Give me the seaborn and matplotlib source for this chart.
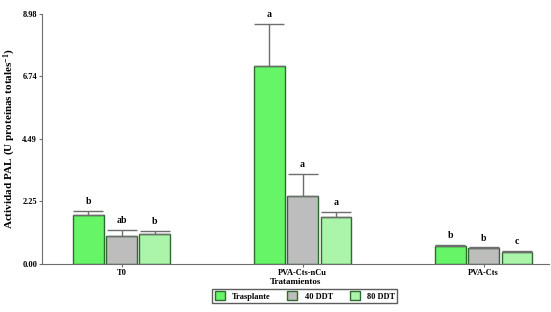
import seaborn as sns
import matplotlib.pyplot as plt
import pandas as pd
import numpy as np

tratamientos = ["T0", "PVA-Cts-nCu", "PVA-Cts"]
tiempos = ["Trasplante", "40 DDT", "80 DDT"]
trasplante = [1.76, 7.11, 0.65]
ddt40 = [1.00, 2.44, 0.57]
ddt80 = [1.08, 1.69, 0.43]
err_trasplante = [0.15, 1.51, 0.03]
err_40 = [0.22, 0.79, 0.03]
err_80 = [0.10, 0.18, 0.04]
letras_trasplante = ["b", "a", "b"]
letras_40 = ["ab", "a", "b"]
letras_80 = ["b", "a", "c"]
yticks = [0.00, 2.25, 4.49, 6.74, 8.98]

df = pd.DataFrame({
    "Tratamientos": tratamientos * 3,
    "Tiempo": [t for t in tiempos for _ in tratamientos],
    "PAL": trasplante + ddt40 + ddt80,
    "err": err_trasplante + err_40 + err_80,
    "letra": letras_trasplante + letras_40 + letras_80,
})

plt.rcParams['font.family'] = ['Liberation Serif', 'DejaVu Serif']
plt.rcParams['font.weight'] = 'bold'
plt.rcParams['mathtext.default'] = 'regular'

colors = ["#66f566", "#bdbdbd", "#aaf5aa"]
fig = plt.figure(figsize=(5.51, 3.12), dpi=100)
ax = fig.add_axes([0.076, 0.154, 0.92, 0.801])

sns.barplot(data=df, x="Tratamientos", y="PAL", hue="Tiempo", order=tratamientos,
            hue_order=tiempos, palette=colors, saturation=1, errorbar=None,
            width=0.55, gap=0.08, edgecolor="#2e6b2e", linewidth=1.0, ax=ax,
            legend=True)

# bars come in hue order, each over the categories
for patch, (_, row) in zip(ax.patches, df.iterrows()):
    xc = patch.get_x() + patch.get_width() / 2
    top = patch.get_height()
    ax.errorbar(xc, top, yerr=[[0], [row["err"]]], fmt="none", ecolor="#6e6e6e",
                elinewidth=1.0, capsize=10.8, capthick=1.0)
    ax.text(xc, top + row["err"] + 0.17, row["letra"], ha="center", va="bottom",
            fontsize=7, fontweight="bold")

ax.set_ylim(0, 8.98)
ax.set_xlim(-0.44, 2.36)
ax.set_yticks(yticks)
ax.set_yticklabels([f"{v:.2f}" for v in yticks])
ax.tick_params(axis="both", labelsize=6, length=2, color="#6e6e6e", pad=1.5)
for s in ["top", "right"]:
    ax.spines[s].set_visible(False)
for s in ["left", "bottom"]:
    ax.spines[s].set_color("#6e6e6e")
ax.set_xlabel("Tratamientos", fontsize=6.5, fontweight="bold", labelpad=1)
ax.set_ylabel("Actividad PAL (U proteínas totales$^{-1}$)", fontsize=8,
              fontweight="bold", labelpad=3)

ax.legend(loc="upper center", bbox_to_anchor=(0.519, -0.085), ncol=3, fontsize=6,
          frameon=True, fancybox=False, edgecolor="#333333", handlelength=1.2,
          handleheight=1.2, columnspacing=2.0, handletextpad=0.9, borderpad=0.25,
          title=None)

fig.savefig("out.png", dpi=100)
